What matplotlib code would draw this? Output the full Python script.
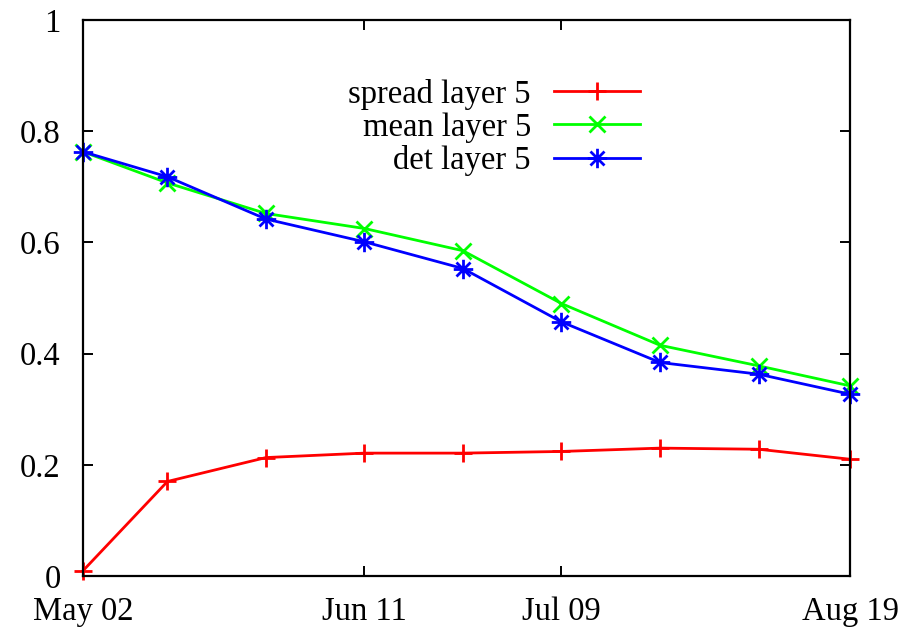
import matplotlib
matplotlib.use("Agg")
import matplotlib.pyplot as plt
import matplotlib.dates as mdates
from matplotlib.path import Path
from matplotlib.ticker import FuncFormatter
import datetime as dt

dates = ["2000-05-02", "2000-05-14", "2000-05-28", "2000-06-11", "2000-06-25",
         "2000-07-09", "2000-07-23", "2000-08-06", "2000-08-19"]
spread = [0.0095, 0.170, 0.213, 0.221, 0.221, 0.224, 0.230, 0.228, 0.210]
mean = [0.763, 0.707, 0.652, 0.625, 0.585, 0.490, 0.415, 0.378, 0.342]
det = [0.763, 0.718, 0.642, 0.601, 0.553, 0.457, 0.384, 0.363, 0.327]
xtick_dates = ["2000-05-02", "2000-06-11", "2000-07-09", "2000-08-19"]
yticks = [0, 0.2, 0.4, 0.6, 0.8, 1]
labels = ["spread layer 5", "mean layer 5", "det layer 5"]

x = [dt.datetime.strptime(d, "%Y-%m-%d") for d in dates]
xt = [dt.datetime.strptime(d, "%Y-%m-%d") for d in xtick_dates]

plt.rcParams['font.family'] = ['Liberation Serif', 'DejaVu Serif']

fig = plt.figure(figsize=(9.2, 6.27), dpi=100)
ax = fig.add_axes([83/920, 51/627, (850-83)/920, (576-20)/627])

d = 0.72
star = Path([(-1, 0), (1, 0), (0, -1), (0, 1), (-d, -d), (d, d), (-d, d), (d, -d)],
            [Path.MOVETO, Path.LINETO] * 4)

lw = 2.0
ax.plot(x, spread, color='#ff0000', lw=lw, marker='+', ms=13, mew=lw, label=labels[0], clip_on=False)
ax.plot(x, mean, color='#00ff00', lw=lw, marker='x', ms=11, mew=lw, label=labels[1], clip_on=False)
ax.plot(x, det, color='#0000ff', lw=lw, marker=star, ms=14, mew=lw, label=labels[2], clip_on=False)

ax.set_xlim(xt[0], xt[-1])
ax.set_ylim(0, 1)
ax.set_xticks(xt)
ax.xaxis.set_major_formatter(mdates.DateFormatter('%b %d'))
ax.set_yticks(yticks)
ax.yaxis.set_major_formatter(FuncFormatter(lambda v, p: '%g' % v))

for s in ax.spines.values():
    s.set_linewidth(1.6)
ax.tick_params(direction='in', length=7, width=1.4, top=True, right=True,
               labelsize=23.5)
ax.tick_params(axis='y', pad=16)
ax.tick_params(axis='x', pad=15)

leg = ax.legend(loc='upper left', bbox_to_anchor=(0.329, 0.918), frameon=False,
                markerfirst=False, fontsize=23.5, handlelength=2.65,
                handletextpad=0.7, labelspacing=0.08, borderaxespad=0)
for t in leg.get_texts():
    t.set_ha('right')

fig.savefig("out.png", dpi=100)
